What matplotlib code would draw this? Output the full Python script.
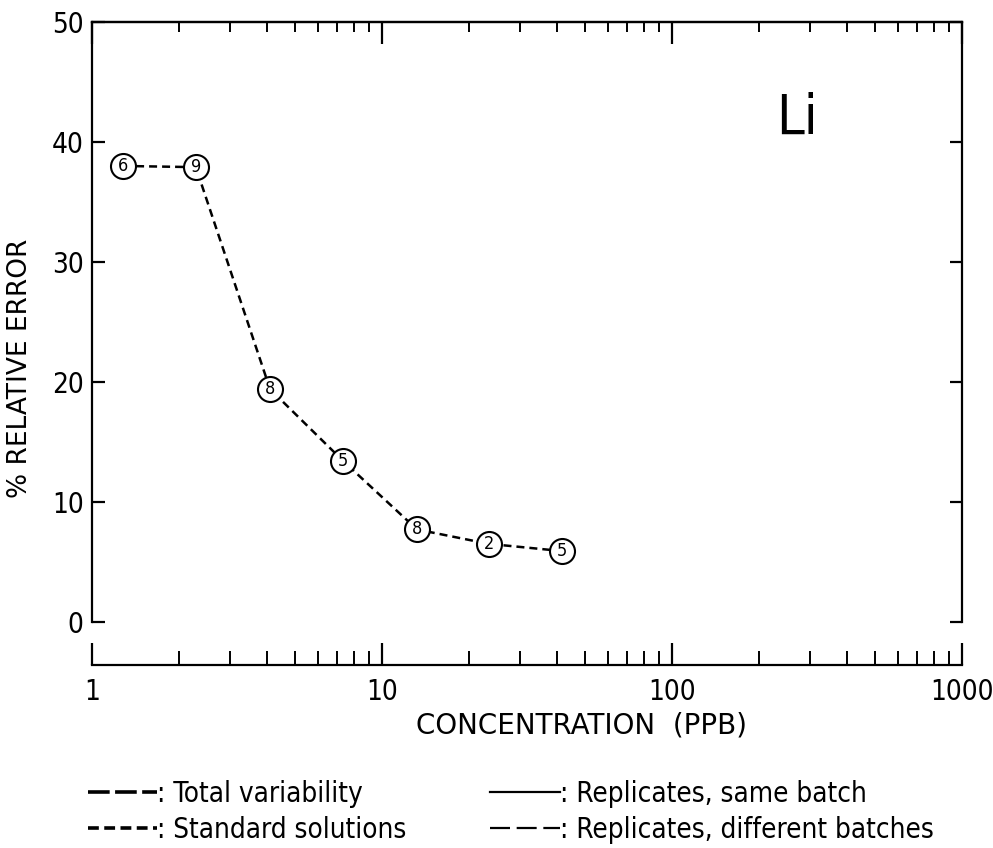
import matplotlib
matplotlib.use("Agg")
import matplotlib.pyplot as plt
from matplotlib.lines import Line2D
from matplotlib.ticker import LogLocator, NullFormatter

# Li: relative error vs concentration, circled numbers = number of samples
conc = [1.28, 2.28, 4.11, 7.35, 13.2, 23.3, 41.7]
rel_err = [38.0, 37.9, 19.4, 13.4, 7.7, 6.5, 5.9]
n_samples = [6, 9, 8, 5, 8, 2, 5]

x_ticks = [1, 10, 100, 1000]
x_ticklabels = ["1", "10", "100", "1000"]
y_ticks = [0, 10, 20, 30, 40, 50]

plt.rcParams["font.family"] = ["DejaVu Sans"]
plt.rcParams["font.stretch"] = "condensed"

fig = plt.figure(figsize=(9.93, 8.48), dpi=100)
ax = fig.add_axes([92 / 993, 1 - 665 / 848, (962 - 92) / 993, (665 - 22) / 848])

ax.plot(conc, rel_err, color="black", lw=1.8, dashes=(3.2, 2.0), zorder=2)
ax.plot(conc, rel_err, ls="none", marker="o", ms=18, mfc="white", mec="black",
        mew=1.5, zorder=3)
for x, y, n in zip(conc, rel_err, n_samples):
    ax.text(x, y, str(n), ha="center", va="center", fontsize=13, zorder=4)

ax.set_xscale("log")
ax.set_xlim(1, 1000)
ax.set_ylim(-3.6, 50)

for s in ax.spines.values():
    s.set_linewidth(1.6)
ax.spines["left"].set_bounds(0, 50)
ax.spines["right"].set_bounds(0, 50)

ax.set_xticks(x_ticks)
ax.set_xticklabels(x_ticklabels)
ax.xaxis.set_minor_locator(LogLocator(base=10, subs=range(2, 10)))
ax.xaxis.set_minor_formatter(NullFormatter())
ax.tick_params(axis="x", which="major", direction="in", length=16, width=1.6,
               labelsize=20, pad=9)
ax.tick_params(axis="x", which="minor", direction="in", length=10, width=1.4)

ax.set_yticks(y_ticks)
ax.tick_params(axis="y", which="major", direction="in", length=9, width=1.6,
               labelsize=20, pad=6, right=True)

top = ax.secondary_xaxis("top")
top.set_xticks(x_ticks)
top.xaxis.set_minor_locator(LogLocator(base=10, subs=range(2, 10)))
top.xaxis.set_minor_formatter(NullFormatter())
top.tick_params(axis="x", which="major", direction="in", length=16, width=1.6,
                labeltop=False)
top.tick_params(axis="x", which="minor", direction="in", length=7, width=1.4)
top.spines["top"].set_linewidth(1.6)

ax.set_xlabel("CONCENTRATION  (PPB)", fontsize=20, fontstretch="normal")
ax.xaxis.set_label_coords(0.563, -0.073)
ax.set_ylabel("% RELATIVE ERROR", fontsize=19, fontstretch="normal")
ax.yaxis.set_label_coords(-0.068, 0.462)

ax.text(0.81, 0.85, "Li", transform=ax.transAxes, fontsize=40,
        ha="center", va="center")

handles = [
    Line2D([], [], color="black", lw=2.6, dashes=(6, 1.5)),
    Line2D([], [], color="black", lw=2.6, dashes=(3.0, 1.5)),
    Line2D([], [], color="black", lw=1.6),
    Line2D([], [], color="black", lw=1.6, dashes=(9, 3)),
]
labels = [": Total variability", ": Standard solutions",
          ": Replicates, same batch", ": Replicates, different batches"]
fig.legend(handles, labels, ncol=2, frameon=False, fontsize=20,
           loc="lower left", bbox_to_anchor=(88 / 993, 4 / 848),
           handlelength=2.5, handletextpad=0.0, columnspacing=3.0,
           labelspacing=0.3, borderaxespad=0, borderpad=0)

fig.savefig("out.png", dpi=100)
